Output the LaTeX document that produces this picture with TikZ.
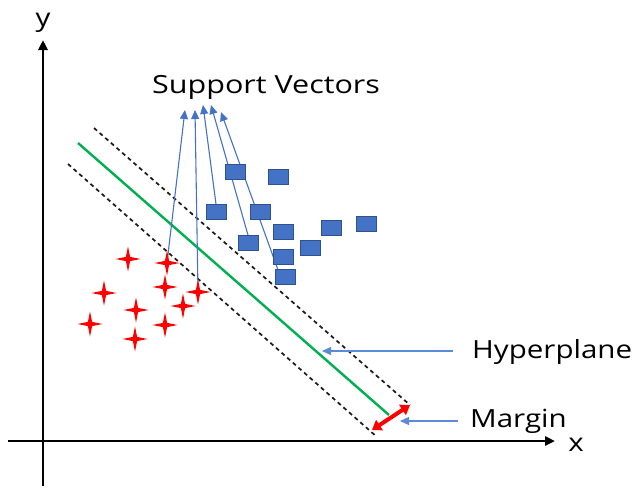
\documentclass[tikz,border=0pt]{standalone}
\usepackage{fontspec}
\setmainfont{Open Sans}
\usetikzlibrary{arrows.meta,shapes.geometric,calc,backgrounds}
\definecolor{svblue}{HTML}{4472C4}
\definecolor{svedge}{HTML}{2F528F}
\definecolor{hypgreen}{HTML}{00B050}
\definecolor{lineblue}{HTML}{5B8BD6}
\newcommand\stretchtxt[2][1.18]{\scalebox{#1}[1]{#2}}
\begin{document}
\begin{tikzpicture}[x=1pt,y=-1pt,
  lbl/.style={anchor=base west,inner sep=0pt,font=\fontsize{25}{30}\selectfont},
  axlbl/.style={inner sep=0pt,font=\fontsize{25}{30}\selectfont},
  axis/.style={line width=2.6pt,-{Triangle[length=10pt,width=9pt]}},
  bound/.style={line width=1.7pt,dash pattern=on 4pt off 3.5pt,black!90},
  sq/.style={rectangle,fill=svblue,draw=svedge,line width=0.8pt,minimum width=20pt,minimum height=15pt,inner sep=0pt},
  spark/.style={star,star points=4,star point ratio=4.2,minimum size=25pt,inner sep=0pt,fill=red,draw=none},
  sv/.style={svblue,line width=1.1pt,-{Triangle[length=9pt,width=8pt]}},
  pointer/.style={lineblue,line width=1.1pt,-{Triangle[length=9pt,width=8pt]}},
  margin/.style={red,line width=4pt,{Triangle[length=9pt,width=12pt]}-{Triangle[length=9pt,width=12pt]}}
]
\useasboundingbox (0,0) rectangle (640,488);

% axes
\coordinate (xs) at (8,441);
\coordinate (xe) at (555,441);
\coordinate (ys) at (43,486);
\coordinate (ye) at (43,40);
\draw[axis] (xs) -- (xe);
\draw[axis] (ys) -- (ye);
\node[axlbl] (xl) at (576,445) {\stretchtxt{x}};
\node[axlbl] (yl) at (43,23) {\stretchtxt{y}};

% class A points
\foreach \n/\p in {s1/{(128,259)},s2/{(167,263)},s3/{(165,287)},s4/{(198,292)},s5/{(104,293)},
                   s6/{(183,306)},s7/{(136,310)},s8/{(90,324)},s9/{(165,325)},s10/{(135,339)}}
  \node[spark] (\n) at \p {};

% class B points
\foreach \n/\p in {q1/{(235,172)},q2/{(278,177)},q3/{(216,212)},q4/{(260,212)},q5/{(283,232)},
                   q6/{(331,228)},q7/{(366,224)},q8/{(248,243)},q9/{(310,248)},q10/{(283,257)},q11/{(285,277)}}
  \node[sq] (\n) at \p {};

% labels
\node[lbl] (sv) at (152,93) {\stretchtxt[1.22]{Support Vectors}};
\node[lbl] (hyp) at (472,358) {\stretchtxt{Hyperplane}};
\node[lbl] (mar) at (470,427) {\stretchtxt{Margin}};

% separating line and its margins
\coordinate (ua) at (94,128);  \coordinate (ub) at (410,405);
\coordinate (ha) at (78,143);  \coordinate (hb) at (389,415);
\coordinate (la) at (68,164);  \coordinate (lb) at (377,437);
\coordinate (ma) at (372,430); \coordinate (mb) at (410,405);
\coordinate (hpt) at (322,351);
\coordinate (mpt) at (400,421);

% arrow tips under the title
\coordinate (t1) at (185,110);
\coordinate (t2) at (195,110);
\coordinate (t3) at (203,105);
\coordinate (t4) at (211,105);
\coordinate (t5) at (221,112);

\begin{scope}[on background layer]
  \draw[bound] (ua) -- (ub);
  \draw[bound] (la) -- (lb);
  \draw[hypgreen,line width=2.4pt] (ha) -- (hb);
  \draw[sv] (s2.center) -- (t1);
  \draw[sv] (s4.center) -- (t2);
  \draw[sv] (q3.north) -- (t3);
  \draw[sv] (q8.north) -- (t4);
  \draw[sv] ($(q11.north west)!0.15!(q11.north east)$) -- (t5);
\end{scope}

\draw[margin] (ma) -- (mb);
\draw[pointer] ([xshift=-19pt,yshift=7pt]hyp.base west) -- (hpt);
\draw[pointer] ([xshift=-12pt,yshift=6pt]mar.base west) -- (mpt);
\end{tikzpicture}
\end{document}
